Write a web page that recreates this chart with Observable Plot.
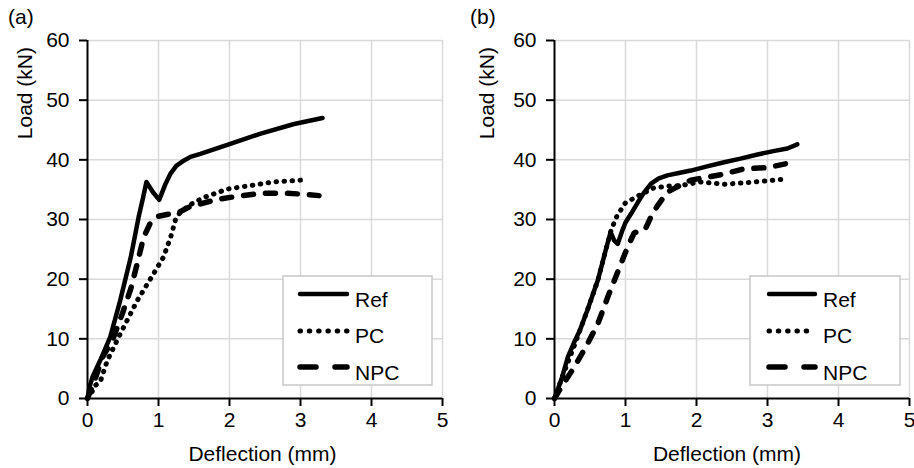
<!DOCTYPE html>
<html>
<head>
<meta charset="utf-8">
<script src="https://cdn.jsdelivr.net/npm/d3@7"></script>
<script src="https://cdn.jsdelivr.net/npm/@observablehq/plot@0.6"></script>
<style>
  html, body { margin: 0; padding: 0; background: #fff; }
  #wrap { position: relative; width: 914px; height: 468px; overflow: hidden; font-family: 'Liberation Sans', Arial, sans-serif; }
  .panel { position: absolute; top: 0; }
  #overlay { position: absolute; left: 0; top: 0; pointer-events: none; }
  #overlay text { font-family: 'Liberation Sans', Arial, sans-serif; font-size: 21px; fill: #000; }
</style>
</head>
<body>
<div id="wrap"></div>
<script>
// ---------- data ----------
const xTicks = [0, 1, 2, 3, 4, 5];
const yTicks = [0, 10, 20, 30, 40, 50, 60];
const seriesNames = ["Ref", "PC", "NPC"];
const panelLabels = ["(a)", "(b)"];
const xLabel = "Deflection (mm)";
const yLabel = "Load (kN)";

// Panel (a)
const refA_defl = [0, 0.03, 0.07, 0.18, 0.32, 0.46, 0.61, 0.72, 0.78, 0.83, 0.92, 1.01, 1.1, 1.17, 1.25, 1.36, 1.45, 1.59, 1.99, 2.44, 2.91, 3.31];
const refA_load = [0, 2, 3.6, 6.4, 10.3, 16.4, 23.7, 30.4, 33.5, 36.3, 34.6, 33.3, 36.0, 37.7, 39.0, 39.9, 40.5, 41.0, 42.6, 44.4, 46.0, 47.0];
const pcA_defl = [0, 0.05, 0.11, 0.18, 0.28, 0.46, 0.70, 0.93, 1.07, 1.17, 1.24, 1.31, 1.45, 1.64, 1.97, 2.30, 2.62, 2.90, 3.10];
const pcA_load = [0, 0.8, 2.2, 2.8, 6.4, 10.8, 16.4, 20.9, 23.7, 27.0, 30.0, 31.3, 32.5, 33.7, 35.1, 35.7, 36.3, 36.5, 36.7];
const npcA_defl = [0, 0.1, 0.21, 0.35, 0.49, 0.61, 0.70, 0.79, 0.88, 0.98, 1.1, 1.29, 1.45, 1.59, 1.8, 2.06, 2.44, 2.81, 3.09, 3.26];
const npcA_load = [0, 3.0, 6.9, 9.7, 14.2, 18.4, 22.6, 27.0, 29.3, 30.5, 30.8, 31.2, 32.2, 32.6, 33.3, 33.8, 34.4, 34.4, 34.2, 34.0];

// Panel (b)
const refB_defl = [0, 0.1, 0.19, 0.28, 0.36, 0.46, 0.61, 0.72, 0.79, 0.84, 0.89, 0.95, 1.0, 1.08, 1.17, 1.26, 1.36, 1.47, 1.59, 1.75, 1.92, 2.15, 2.39, 2.62, 2.86, 3.1, 3.28, 3.42];
const refB_load = [0, 3.3, 7.0, 9.5, 11.5, 14.7, 19.8, 24.8, 27.9, 26.5, 25.9, 28.0, 29.5, 31.0, 32.8, 34.5, 36.0, 36.9, 37.4, 37.8, 38.2, 38.9, 39.6, 40.2, 40.9, 41.5, 41.9, 42.6];
const pcB_defl = [0, 0.1, 0.28, 0.46, 0.61, 0.72, 0.80, 0.88, 1.0, 1.17, 1.4, 1.6, 1.78, 2.06, 2.39, 2.72, 3.0, 3.28];
const pcB_load = [0, 3.3, 8.9, 14.7, 19.8, 24.8, 28.3, 30.6, 32.8, 33.9, 35.3, 35.6, 35.7, 36.3, 35.9, 36.2, 36.5, 36.8];
const npcB_defl = [0, 0.1, 0.28, 0.44, 0.61, 0.75, 0.89, 1.03, 1.12, 1.2, 1.28, 1.36, 1.45, 1.59, 1.7, 1.92, 2.34, 2.67, 3.0, 3.28];
const npcB_load = [0, 2.0, 5.3, 8.6, 12.5, 17.0, 21.2, 25.4, 27.7, 28.2, 28.4, 30.5, 32.3, 34.6, 35.3, 36.6, 37.5, 38.5, 38.7, 39.4];

// ---------- helpers ----------
const zip = (xs, ys) => xs.map((d, i) => ({d, l: ys[i]}));
const styles = {
  Ref: {stroke: "#000", strokeWidth: 4.5, strokeLinejoin: "round", strokeLinecap: "round"},
  PC: {stroke: "#000", strokeWidth: 5, strokeDasharray: "0.5 7.5", strokeLinecap: "round"},
  NPC: {stroke: "#000", strokeWidth: 5.5, strokeDasharray: "10 12", strokeLinecap: "round"}
};
const grid = {stroke: "#d9d9d9", strokeOpacity: 1, strokeWidth: 1.5};

function panel(series, marginLeft, marginRight) {
  return Plot.plot({
    width: 457, height: 468,
    marginTop: 40, marginBottom: 70, marginLeft, marginRight,
    x: {domain: [0, 5], label: null},
    y: {domain: [0, 60], label: null},
    style: {fontFamily: "'Liberation Sans', Arial, sans-serif", fontSize: "21px", color: "#000", background: "transparent", overflow: "visible"},
    marks: [
      Plot.gridX(xTicks.slice(1), grid),
      Plot.gridY(yTicks.slice(1), grid),
      Plot.axisX(xTicks, {tickSize: 8, tickPadding: 6, strokeWidth: 2, fontSize: 21, label: null}),
      Plot.axisY(yTicks, {tickSize: 8, tickPadding: 10, strokeWidth: 2, fontSize: 21, label: null}),
      Plot.ruleX([0], {stroke: "#000", strokeWidth: 2}),
      Plot.ruleY([0], {stroke: "#000", strokeWidth: 2}),
      ...seriesNames.map((name, i) => Plot.line(series[i], {x: "d", y: "l", ...styles[name]}))
    ]
  });
}

const wrap = document.getElementById("wrap");
const pA = panel([zip(refA_defl, refA_load), zip(pcA_defl, pcA_load), zip(npcA_defl, npcA_load)], 87, 15);
const pB = panel([zip(refB_defl, refB_load), zip(pcB_defl, pcB_load), zip(npcB_defl, npcB_load)], 97, 5);
pA.classList.add("panel"); pA.style.left = "0px";
pB.classList.add("panel"); pB.style.left = "457px";
wrap.appendChild(pA);
wrap.appendChild(pB);

// ---------- overlay: panel labels, axis titles, legends ----------
const ns = "http://www.w3.org/2000/svg";
const ov = document.createElementNS(ns, "svg");
ov.setAttribute("id", "overlay");
ov.setAttribute("width", 914);
ov.setAttribute("height", 468);
wrap.appendChild(ov);
function el(tag, attrs, text) {
  const e = document.createElementNS(ns, tag);
  for (const k in attrs) e.setAttribute(k, attrs[k]);
  if (text != null) e.textContent = text;
  ov.appendChild(e);
  return e;
}
const layout = [
  {lab: [8, 24], ylab: [32, 47], xlab: [262.5, 461], box: [283, 276, 149, 109], lx: [300, 347], tx: 355},
  {lab: [470, 24], ylab: [494, 47], xlab: [727, 461], box: [750, 276, 150, 109], lx: [769, 815], tx: 823}
];
const rowsY = [294, 331, 367];
const textY = [307, 343, 380];
layout.forEach((L, p) => {
  el("text", {x: L.lab[0], y: L.lab[1]}, panelLabels[p]);
  el("text", {transform: `translate(${L.ylab[0]},${L.ylab[1]}) rotate(-90)`, "text-anchor": "end"}, yLabel);
  el("text", {x: L.xlab[0], y: L.xlab[1], "text-anchor": "middle"}, xLabel);
  el("rect", {x: L.box[0], y: L.box[1], width: L.box[2], height: L.box[3], fill: "#fff", stroke: "#c8c8c8", "stroke-width": 1.5});
  seriesNames.forEach((name, i) => {
    const s = styles[name];
    const attrs = {x1: L.lx[0], x2: L.lx[1], y1: rowsY[i], y2: rowsY[i], stroke: s.stroke, "stroke-width": s.strokeWidth, "stroke-linecap": "round"};
    if (name === "PC") attrs["stroke-dasharray"] = "0.5 8.8";
    if (name === "NPC") attrs["stroke-dasharray"] = "16 19";
    el("line", attrs);
    el("text", {x: L.tx, y: textY[i]}, name);
  });
});
</script>
</body>
</html>
